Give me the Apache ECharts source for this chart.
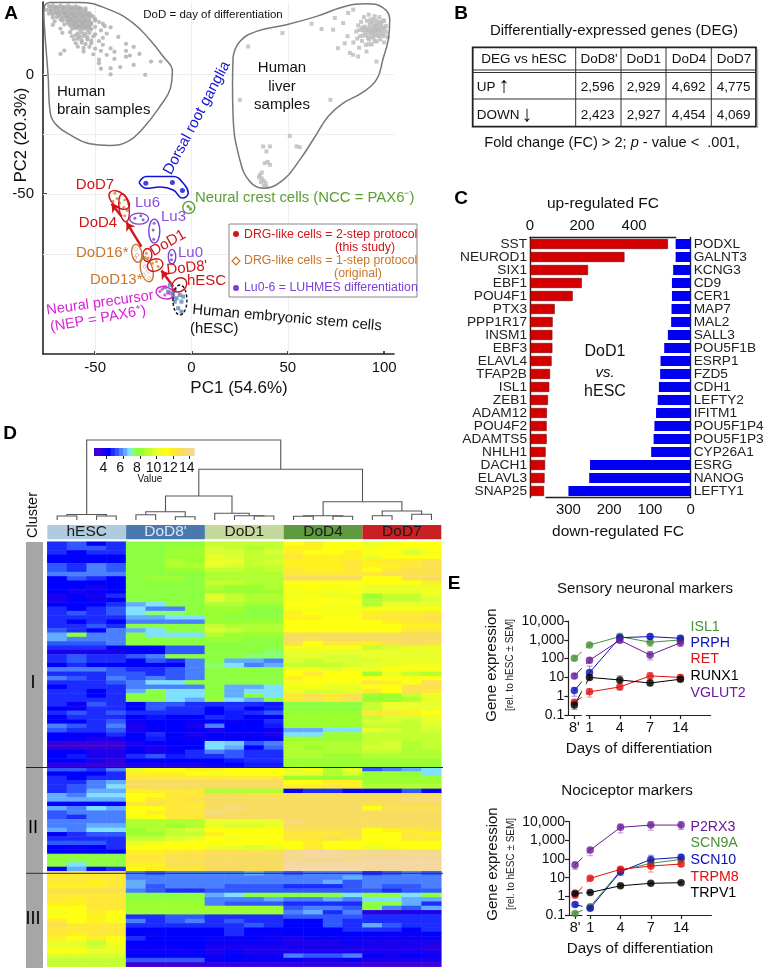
<!DOCTYPE html>
<html><head><meta charset="utf-8">
<style>html,body{margin:0;padding:0;background:#fff}#c{width:770px;height:969px}</style>
<script src="https://cdn.jsdelivr.net/npm/echarts@6/dist/echarts.min.js"></script>
</head><body><div id="c"></div>
<script>
// ---------- Panel A data (PC1, PC2) ----------
const brainPoints=[[-74,28.6],[-72,28.9],[-70,28.3],[-68,28.7],[-66,28.2],[-64,28.8],[-62,28.1],[-60,28.5],[-58,27.9],
[-75,27],[-73,26.8],[-71,27.2],[-69,26.7],[-67,27.1],[-65,26.6],[-63,27.1],[-61,26.7],[-59,26.9],[-57,26.4],[-55,26.8],
[-74,25.4],[-72,25.1],[-70,25.6],[-68,25],[-66,25.5],[-64,25],[-62,25.4],[-60,24.9],[-58,25.3],[-56,24.8],[-54,25.3],[-52,24.7],
[-72,23.8],[-70,24],[-67,23.6],[-65,23.9],[-63,23.4],[-61,23.8],[-59,23.3],[-57,23.7],[-55,23.2],[-53,23.6],[-50,23.1],
[-71,22.2],[-67,22.5],[-64,22],[-62,22.3],[-60,21.9],[-58,22.2],[-56,21.7],[-54,22.1],[-52,21.6],[-48,21.9],[-46,21.2],
[-72,20.7],[-66,20.9],[-63,20.4],[-61,20.7],[-59,20.2],[-57,20.6],[-55,20.1],[-53,20.5],[-50,19.9],[-45,20.2],[-42,19.7],
[-68,19.2],[-62,19],[-60,19.3],[-58,18.8],[-56,19.1],[-54,18.6],[-52,18.9],[-47,18.4],
[-67,17.4],[-63,17.7],[-59,17.2],[-57,17.5],[-55,17],[-53,17.4],[-50,16.8],[-44,17.1],
[-62,16],[-60,16.3],[-58,15.8],[-56,16.1],[-54,15.6],[-51,15.9],[-46,15.3],[-38,15.7],
[-61,14.6],[-59,14.9],[-57,14.3],[-54,14.6],[-52,14.1],[-48,13.9],
[-60,13],[-57,13.3],[-55,12.7],[-52,13],[-46,12.4],[-34,12.8],[-30,11.5],
[-59,11.6],[-56,11.1],[-53,11.5],[-50,10.8],[-42,10.9],
[-66,10],[-56,9.6],[-47,9.9],[-40,9.5],[-34,9.9],[-68,8.6],[-51,8.4],[-44,8.2],[-32,7.9],[-27,8.6],
[-48,4.7],[-47,2.4],[-42,2.6],[-40,6.5],[-34,7.4],[-30,4],[-24,-0.2],[-21,5.4],[-16,5.4],[-42,0],[-37,3.1],[-48,6.2],
[-73,27.9],[-71,28],[-69,27.8],[-67,27.9],[-65,27.6],[-63,27.8],[-61,27.5],[-59,27.7],[-57,27.4],[-55,27.6],
[-73,26.1],[-71,25.9],[-69,26],[-67,26.2],[-65,25.8],[-63,26],[-61,25.7],[-59,25.9],[-57,25.6],[-55,25.8],[-53,25.6],
[-69,24.4],[-66,24.6],[-64,24.3],[-62,24.5],[-60,24.2],[-58,24.4],[-56,24.1],[-54,24.4],[-51,24.1],
[-68,23],[-65,22.8],[-63,22.9],[-61,22.6],[-59,22.8],[-57,22.5],[-55,22.7],[-53,22.4],[-50,22.6],
[-64,21.3],[-62,21.1],[-60,21.3],[-58,21],[-56,21.2],[-54,20.9],[-52,21.1],[-61,19.8],[-59,19.9],[-57,19.7],[-55,19.7],[-53,19.5]];
const liverPoints=[[47.2,17.3],[29.4,11.7],[62.3,21.2],[67.5,19],[73.5,18.7],[74.4,23.6],[78.7,21.5],[81.3,25.7],[83.9,27.1],
[72.1,-10.6],[25.1,-10.6],[51,-25.7],[37.2,-30.1],[40.7,-30.1],[38.9,-32.2],[54.5,-30.1],[56.2,-30.4],[38,-37.1],[40.7,-37.8],[39.5,-36.6],
[35.5,-42],[36.5,-43.5],[37.5,-44.5],[38.5,-45.5],[36,-45],[37.5,-46.5],[39,-47],[35,-43],[36.5,-41],
[96,5.4],[86.5,7.5],[83.9,8.2],[90.8,9.6],[82.2,9],[76,11],[79.5,13],[81,16],[84,13.4],[87,11.2],
[85.5,18],[86.5,20.5],[87.5,16],[88,22],[88.5,14],[89,18.5],[89.5,24],[90,20],[90.5,12.4],[91,16.4],[91,22.4],[91.5,18.6],
[92,25],[92.2,14.6],[92.5,20.6],[93,17],[93,23],[93.5,12.6],[94,19],[94,21.6],[94.5,15.5],[95,24.4],[95,17.6],[95.5,20.4],
[96,13.8],[96,22.6],[96.5,18.4],[97,16],[97,20.6],[97.5,24],[98,14.6],[98,18.4],[98.5,21.4],[99,16.8],[99.5,19.6],[100,13.4],[100,22.4],[101,17.6],[101,20.3],[102,15.6],
[90,17.4],[90.6,19],[91.6,15.2],[92,17.8],[92.4,19.4],[92.8,21.8],[93.4,15.6],[93.6,18.2],[94.2,17.2],[94.6,20.2],[95,18.8],[95.6,16.4],[96,19.4],[96.2,21.2],[96.8,17.4],[97.2,19],[97.6,22],[98,16.2],[98.4,20],[99,18],[99.4,22.6],[100,16],[100.4,19],[88.6,19.6],[89.2,16.2],[87.2,18.6],[86,15],[94.4,23],[92,12.6],[95,14]];
const drgPoints=[[-23.7,-45.5],[-9.9,-45.2],[-4.7,-48.5]];
const nccPoints=[[-1.7,-55.2],[-0.5,-56.3]];
const dodPoints=[[-39.8,-49.7],[-38.6,-51.9],[-40.7,-53],[-37.2,-53.8],[-34.6,-52.4],[-35.1,-55.5],[-34.6,-59.1],[-33.4,-56.9],[-23.4,-74.8],[-22.5,-76.8],[-24.2,-76.4],[-20.2,-78.9],[-18.2,-78.2],[-17.3,-80.3]];
const originalPoints=[[-28.9,-73.1],[-28.2,-75.5],[-29.4,-76.8],[-24.2,-80.3],[-22.5,-82.4],[-24.7,-83.8],[-22,-85.2]];
const luhmesPoints=[[-29.4,-60.1],[-25.1,-60.8],[-26.3,-59.1],[-19.4,-62.2],[-19.9,-65],[-19.6,-68.9],[-10.4,-75.5],[-10.4,-77.5]];
const hescPoints=[[-13.8,-89],[-11.2,-88],[-8.7,-90.1],[-6.1,-92.2],[-10.4,-91.5],[-7.8,-93.6],[-5.2,-95],[-8.7,-95],[-6.9,-97.8],[-5.2,-99.2],[-4.3,-92.9],[-9.5,-92.9],[-12.1,-90.8]];
const nepPoints=[[-16.4,-90.8],[-13.8,-92.2],[-12.1,-91.5],[-15.2,-89.8]];
const brainOutline=[[-76.1,29.1],[-73.5,30.1],[-58,30.1],[-42.4,27],[-30.3,21.5],[-21.6,14.5],[-14.7,7.5],[-9.9,1.3],[-10.9,-5.7],[-16.4,-13.4],[-25.1,-22.5],[-32.9,-28],[-42.4,-29.7],[-52.8,-29],[-63.1,-25.2],[-70.9,-20.4],[-73.5,-14.8],[-74.4,-0.8],[-76.1,17.3],[-76.6,25.7],[-76.1,29.1]];
const liverOutline=[[21.6,7.5],[25.1,13.8],[33.7,18],[49.3,20.8],[64.9,24.3],[78.7,28.2],[90.8,29.6],[99.5,27.8],[102.9,22.9],[102.1,14.5],[99.5,6.8],[96,-2.2],[88.2,-7.8],[78.7,-12],[70.9,-17.6],[63.1,-27.3],[56.2,-35.7],[47.6,-44.1],[37.2,-47.6],[30.3,-44.8],[25.1,-35.7],[21.6,-17.6],[21.3,-3.6],[21.6,7.5]];
const drgOutline=[[-27.2,-45.2],[-23.4,-42.7],[-9.5,-42.7],[-3.5,-46.2],[-1.7,-49.7],[-4.7,-51.7],[-9.5,-48.3],[-16.4,-47.1],[-23.4,-47.6],[-27.2,-45.2]];
const ringMarks=[
 {at:[-37.5,-52.5],rx:12,ry:7,rot:-40,color:'#d0141c'},
 {at:[-35,-55.8],rx:5,ry:14,rot:8,color:'#d0141c'},
 {at:[-27.2,-60.3],rx:9.5,ry:5.5,rot:0,color:'#7a40d8'},
 {at:[-19.3,-65.5],rx:5.5,ry:12,rot:0,color:'#7a40d8'},
 {at:[-22.9,-75.5],rx:4.5,ry:6.5,rot:0,color:'#d0141c'},
 {at:[-28.4,-74.8],rx:5,ry:9,rot:10,color:'#c8772a'},
 {at:[-23.2,-81.8],rx:6,ry:12,rot:15,color:'#c8772a'},
 {at:[-18.9,-79.7],rx:8,ry:6,rot:20,color:'#d0141c'},
 {at:[-10.1,-76.2],rx:3.7,ry:7.3,rot:0,color:'#7a40d8'},
 {at:[-6.3,-88],rx:8,ry:6.5,rot:40,color:'#d0141c'},
 {at:[-6,-94.3],rx:7,ry:15,rot:0,color:'#111',dash:[3,2]},
 {at:[-13.8,-91.3],rx:9,ry:6,rot:-15,color:'#d820d8'},
 {at:[-1.4,-55.6],rx:6,ry:6,rot:0,color:'#5aa032'}
];
const trajectoryArrows=[[[-26,-72],[-33.7,-61.9]],[[-36.3,-59.4],[-41.5,-54.1]],[[-9.5,-88.7],[-15.6,-82]]];
// ---------- Panel B ----------
const degHeaders=["DoD8'","DoD1","DoD4","DoD7"];
const degUp=["2,596","2,929","4,692","4,775"];
const degDown=["2,423","2,927","4,454","4,069"];
// ---------- Panel C ----------
const upGenes=["SST","NEUROD1","SIX1","EBF1","POU4F1","PTX3","PPP1R17","INSM1","EBF3","ELAVL4","TFAP2B","ISL1","ZEB1","ADAM12","POU4F2","ADAMTS5","NHLH1","DACH1","ELAVL3","SNAP25"];
const upFC=[530,363,223,199,164,95,87,86,86,83,77,74,69,65,64,64,60,58,56,54];
const downGenes=["PODXL","GALNT3","KCNG3","CD9","CER1","MAP7","MAL2","SALL3","POU5F1B","ESRP1","FZD5","CDH1","LEFTY2","IFITM1","POU5F1P4","POU5F1P3","CYP26A1","ESRG","NANOG","LEFTY1"];
const downFC=[37,37,43,46,46,47,48,56,65,74,75,78,81,85,89,91,97,247,249,300];
// ---------- Panel D ----------
const heatGroups=["hESC","DoD8'","DoD1","DoD4","DoD7"];
const heatHESC=[[4.5,5,4,4.5],[4.5,5,5,4.5],[4.5,4,4.5,4.5],[4,4,4,4],[4,4,4,4],[5,4.5,5.5,5],[5,4.5,5.5,5],[5.5,5.5,5.5,5.5],[4,5,4.5,4],[4,4,4,4],[4,4,3.5,4],[4,3.5,4,4],[3.5,4,3.5,4.5],[3.5,4,3.8,4],[4,4,4,4.5],[4.5,4,4.5,5],[4.5,5,4.5,5],[4.5,4.5,4.5,4.5],[4.5,4,4.5,4],[4.5,4.5,5,4.5],[5,4.5,4,5.5],[6,7.5,5.5,5.5],[6,5.5,5.5,5.5],[5,5,5,5.5],[4.5,4.5,4.5,4],[3.5,3.5,3.5,3.5],
[4.5,5,4.5,4.5],[4.5,5,4.5,4.5],[4,4.5,4,4],[5.5,5.5,5.5,5],[4.5,4.5,4.5,5],[5.5,5,4.5,5.5],[4.5,4.5,4.5,5],[4,4.5,4.5,4.5],[4.5,4.5,4,4.5],[4.5,4.5,4,4.5],[4.5,4.5,4.5,4.5],[4.5,3.8,5,4.5],[4,3.8,4.5,4.5],[4.5,5,4.5,5],[4,4.5,4.5,4.5],[4,4,4.5,5],[5.5,5,4.5,5.5],[5,4.5,4.5,5],[4,4,4,4.5],[4,3.8,3.5,3.5],[3,3,3,3],[3,3,3,3],[4,4,3.5,3.5],[4,4.3,3.5,3.5],[4,4,3.5,3.2],[3.2,3.2,3,3],
[5,5,4.5,5.5],[4,4,4,4.5],[4.5,4,4.5,4.5],[4.5,4.5,5.5,6],[4.5,5,5.5,6.5],[4.5,5,6,6],[6,5.5,6.5,6.5],[6,6,6,6],[4,4,4,4],[6,5.5,6.5,6],[5,5.5,5.5,5.5],[5,4.5,5.5,5.5],[5.5,5.5,5.5,5.5],[5.5,5.5,6,6],[6,5.5,6.5,6.5],[4,4.5,5,5],[4.5,4.5,4.5,4.5],[5,5,5,4.5],[4,3.8,4,4.5],[4,3.8,4,4],[7.5,7.5,7.5,7.5],[7.5,7.5,7.5,7.5],[7.5,6.5,7.5,7.5],[4,6,4,4.5],
[12,12,12,12],[12,12,12,12],[12,12,11.5,12],[11.5,11.5,11.5,12],[12.5,12.5,12.5,12.5],[12,12,12,12],[12,11.5,12,12],[11.5,11.5,12,12],[11,11,12,12],[10.5,11,11.5,11],[11,11,11.5,11],[12,11,11.5,10.5],[12.5,12,12,12],[12,12,12,12],[12,11.5,12,12],[11.5,11,11.5,11],[10,10,9,10.5],[10,10,9.5,10],[11,11,10,10],[9.5,9.5,9.5,9.5],[9,9,9,9],[9,9,9,9]];
const heatD8=[[7.5,7.5,7.5,7.5],[7.5,7.5,8,8],[7.5,7.5,8,8],[7.5,7.5,8,8],[7.5,7.5,8.5,8],[7.5,7.5,8.5,8.5],[7.5,7.5,8,8],[7.5,7.5,7.5,7.5],[7.5,8,8,7.5],[7.5,7.5,7.5,7.5],[7.5,7.5,7.5,7.5],[7.5,7.5,7.5,7.5],[7.5,7.5,7.5,7.5],[7.5,7.5,7.5,7.5],[6,6.5,7.5,7.5],[6.5,5.5,5.5,7.5],[6.5,7,7,7.5],[6,6,6.5,6.5],[5.5,5.5,5.5,5.5],[7.5,7.5,7.5,7.5],[6,6.5,7.5,7.5],[7.5,6.5,6.5,6.5],[7.5,7.5,7.5,7.5],[7.5,7.5,7.5,7.5],[4,4,5,5],[4,4,5,5],
[5,5.5,7.5,7.5],[4,5,4.5,5.5],[4,4,4,5.5],[4.5,4.5,5,5.5],[5,4.5,5,5.5],[5,5.5,5,5.5],[5.5,6.5,6.5,7.5],[5.5,5.5,5.5,5.5],[6,7.5,6.5,6.5],[7.5,7.5,6.5,6.5],[7.5,7.5,6.5,6],[4,5,5,4.5],[4,5,4.5,4.5],[4.5,4.5,4.5,4.5],[4,4.2,4,4],[3.8,4,4,3.8],[3.5,4,4,3.5],[3.5,3.8,4,4],[4,4.5,4,3.5],[4,4.3,3.8,3.8],[3.5,3.8,4,4],[3.8,3.5,3.8,4],[4,3.5,3.8,4.5],[4.5,5,4.3,4.5],[4,4,4,4],[3.5,3.5,3.5,3.5],
[10,11,11,11.5],[11.5,11.5,11.5,11],[12,12,12,12],[13,13,13,13],[13,13,13,13],[11.5,12,12,12],[11,11,12,12],[11,12,12,12.5],[12,12.5,12,12],[11,11,12,12],[11,11.5,12,12],[10.5,11,12,12],[8.5,8.5,8.5,8.5],[8.5,8.5,8,8.5],[8,8.5,9,9.5],[8,8,9,9],[9,9,9.5,10],[10,10.5,11,11],[11,11,11,11],[11.5,11.5,12,12],[12,12,12.5,12.5],[12,12,12.5,12.5],[11.5,11.5,12.5,12.5],[11,11.5,12,12],
[5.5,5,5.5,5.5],[5.5,5.5,5.5,5.5],[6,5.5,5.5,5.5],[6,5,5.5,5.5],[5.5,5,4.5,4.5],[7.5,7.5,7.5,7.5],[7.5,7.5,7.5,7.5],[8,8,8,8],[8,8,8,8],[8,8,8,8],[4.5,4.5,5,5],[5.5,4.5,5,5.5],[4.5,4.5,4.5,4.5],[4,4,4,4],[4,3.8,4,4],[4.5,4,4,4],[4,4,4,4],[3.8,3.8,3.8,4],[3.8,3.8,3.8,3.8],[4,4,3.8,3.8],[5,5,5,5],[3,3,3,3]];
const heatD1=[[9,9,9,9],[9.5,9,8.5,9],[9.5,9.5,9,9.5],[10,9.5,9,9],[10,10,9,9.5],[10,9.5,9,9],[9,9,8.5,9],[8.5,8.5,8.5,8.5],[8.5,8.5,8.5,8.5],[9,9,8.5,8.5],[8.5,8,8,8.5],[8,8,8,8],[10,9,8.5,8.5],[9.5,9,8.5,8.5],[8.5,8.5,8,8],[8,8,7.5,7.5],[8,8,7.5,7.5],[8,7.5,7.5,7.5],[8,8,8,8],[9,8.5,8.5,8.5],[9.5,9,8.5,8.5],[8.5,8,8,8],[8,8,7.5,7.5],[7.5,7.5,7.5,7.5],[7.5,7.5,7.5,7.5],[7.5,7.5,7.5,7],
[7.5,7.5,7,7],[7.5,6,6,5.5],[7,6.5,5.5,6],[7.5,7.5,7.5,7.5],[7.5,7.5,7.5,7.5],[7.5,7.5,7.5,7.5],[7.5,7.5,7.5,7.5],[7.5,6,6,6.5],[7.5,6,6.5,6.5],[7.5,6,7.5,6.5],[8,6.5,6,7.5],[4.5,4.5,4.5,4.3],[4,4.5,4,4.3],[4,4.3,4.5,5],[4.5,4.3,4,4],[4,3.8,4,4.5],[5.5,4,4,4.3],[3.5,4,4,3.8],[4,3.8,3.8,3.5],[3.8,4,4,3.8],[6.5,6.3,5,5.5],[6.5,6,4,5.2],[5.5,5,4.5,4.5],[4.5,5,4.5,4.5],[4,4.3,4.5,4.5],[3.8,4,4.3,4.3],
[11.5,11,11,11],[10.5,11,11,11],[12,12,12,12],[13,13,13,13],[13,13,13,13],[8.5,8.5,8.5,8.5],[13,13,12.5,12.5],[13,13,13,13],[13,13,13,13],[13,13.5,13,13],[13.5,13,13,13],[13,13,13,13],[10,10,10,10],[10,9.5,9.5,10],[11,11,11,11],[11.5,11,11,11],[11,10.5,11,11],[11,11,11,11],[10,10,9.5,10],[12.5,12.5,12.5,12.5],[13,13,13,13],[13,13,13,13],[13,13,13,13],[13,13,13,13],
[5.5,5.5,6,5.5],[5.5,5.5,5.5,5.5],[5.5,5.5,5.5,5.5],[5.5,5,5,5],[5,5,5,5],[6,6.5,7.5,7.5],[5.5,5.5,5.5,6],[5.5,5,5,5],[8,8,8,8],[8,8,8,8],[4.5,4.5,4.5,4.5],[4.5,5,4.5,4.5],[4.5,4.5,5,4.5],[4,4.5,4,4],[4,4.5,3.8,3.8],[3.8,3.8,4,3.8],[3.8,3.8,3.8,3.8],[3.5,3.5,3.5,3.5],[3.5,3.8,3.5,3.5],[3.8,4,3.8,3.8],[3.8,4,3.8,3.8],[3.2,3.2,3.2,3.2]];
const heatD4=[[11,11.5,11,11],[11.5,11.5,11,11],[11.5,11,11,11.5],[12,11.5,11.5,11.5],[11.5,11.5,11.5,12],[11.5,11.5,11.5,12],[12,11.5,11.5,12],[12,12,12,12],[13,13,13,13],[11,11,11,11],[10.5,11,10.5,10.5],[10.5,10.5,10.5,11],[10.5,10.5,10,10],[10.5,11,11,11],[11,11,10.5,10.5],[10.5,10.5,10.5,10.5],[11.5,11,10.5,10.5],[11.5,11.5,11,11],[11,11,11,11],[11,11,11,11],[11,11,11,11],[13,13,13,13],[13,12.5,13,13],[12.5,11,12,12],[10.5,10.5,10.5,10.5],[10,10,10,10],
[10,10,9.5,9.5],[9.5,9,9.5,9.5],[9,9,9,9.5],[10.5,10.5,10,10.5],[11,12,11,11],[11.5,11,11,11],[10.5,11,11,11],[10.5,10.5,10,10],[10,9.5,9.5,10],[12,12.5,12,12.5],[12,12.5,12,12.5],[7.5,7.5,7.5,7.5],[7.5,7.5,7.5,7.5],[8,8,8,8],[8,8,8,8],[8,8,8,8],[8,8,8,8],[6,6,6.5,6.5],[6.5,6.5,8,8],[8,8,8,8],[8.5,8.5,8.5,8.5],[8.5,8,8.5,8.5],[8.5,8.5,8.5,8.5],[8.5,8.5,8,8],[8,8,8,8],[8,8,8,8],
[10,10.5,8.5,10],[10,10,8.5,9.5],[8,8,8,8],[11,11,11.5,11.5],[11.5,11.5,12,11.5],[3.8,4.5,4.5,4],[13,13,13,13],[13,13,13,13],[13,13,13,13],[13,13,13,13],[13,13,13,13],[13,13,13,13],[13.5,13,13,13],[13,13,13,13],[12.5,12.5,12.5,12.5],[12,12,12,12.5],[12,12,12.5,12],[11,11.5,11,11],[11,12,11,11],[14,14.5,14.5,14],[14,14.5,14.5,14],[14,14,14,14],[14.5,14.5,14.5,14.5],[15,15,15,15],
[5,5.5,5.5,5.5],[5.5,5.5,5.5,6],[5.5,5.5,6,5],[4.5,4.5,4.5,5],[5,5,5,5],[7.5,7.5,7.5,6.5],[5.5,5.5,6,5.5],[4.5,4.5,4.5,4.5],[5,5.5,5.5,5],[5.5,6,4.5,5.5],[5,5,5,5],[4,4,5,4.5],[4,4,5,4.5],[4,4,4,4.5],[4,4,4,4],[3.5,3.8,3.8,3.8],[3.5,3.5,3.5,3.8],[3.5,3.5,3.5,3.5],[3.5,3.5,3.5,3.5],[5.5,5,5,5.5],[3.8,3.5,3.5,3.8],[3.2,3.2,3.2,3.2]];
const heatD7=[[10,10.5,11,11],[10.5,11,11,11],[11,11,9.5,10.5],[10,11,11,11],[11.5,12,12,12.5],[11.5,11.5,12,12.5],[11,12,12.5,12.5],[12,12.5,12.5,12.5],[11,11,12.5,13],[11,11,11,11.5],[10,10,10,10],[10,10,10,10.5],[8,9,9,10],[8.5,9,9,9.5],[8.5,10,10,10],[10.5,10.5,10.5,10.5],[11.5,12,12,12],[12,12,12,12.5],[11,11.5,12,12],[11,11,11.5,11.5],[11,11,12,12],[13,13,13,13],[13,13,13,13],[11.5,12.5,13,12.5],[9,9.5,10,10],[10,10,10,10],
[10,10,10,10],[9.5,10,10,10],[10,10,10.5,10.5],[10,11,10.5,10.5],[8,10,9,8.5],[11,11,10.5,11],[12,11.5,11,12.5],[11,11,12.5,12.5],[12,11,12.5,12],[8,8,9,10],[8,8,8.5,10],[9,10,10,10],[9,10,10,10],[12,12,11.5,11],[9,9.5,9.5,10],[9.5,9.5,9,10],[9,9,9,9.5],[10,9.5,9,9.5],[9,9,9,9],[9,9,9,9],[9,9.5,8.5,9],[9.5,9.5,8.5,9],[9,9,8.5,8.5],[8.5,8.5,8.5,8.5],[8,8,8,8],[8,8,8,8],
[5,5.5,6,6.5],[8,8,7.5,6.5],[8,8,8,8],[8,8,8,8],[8.5,8.5,8.5,8.5],[3.8,3.8,5,3.8],[13,13,13,13],[13,13,13.5,13.5],[12.5,13,13,13],[11,12.5,12.5,12.5],[13,13,13,13],[13,13,13,13],[13,13,13,13],[13,13,13,13],[11,11.5,12,12.5],[11,11,12,11.5],[11,11,12,12],[11,11,11,11],[10,10.5,11,11],[14,14,14,14],[14,14,14,14],[14.5,14.5,14.5,14.5],[14.5,14.5,14.5,14.5],[14.5,14.5,14.5,14.5],
[4.5,5,5.5,5],[5.5,5.5,5.5,5.5],[5.5,5.5,5.5,5.5],[5.5,5,5,5.5],[5,4.5,5,5],[7.5,7.5,6.5,7.5],[6.5,6.5,6,6],[7.5,7.5,6,4.5],[7.5,5.5,5,6],[3.2,3.2,3.5,3.5],[4.5,4.5,4.5,4.5],[4.5,4.5,4.5,4.5],[6,5,4.5,4.5],[4.5,4.5,4,4.5],[4,3.8,3.8,4],[3.8,3.8,3.8,3.8],[3.5,3.5,3.5,3.5],[3.5,3.5,3.5,3.2],[3.5,3.5,3.5,3.5],[4,3.8,4,3.8],[3.5,3.5,3.5,3.5],[3,3,3,3]];
// dendrogram merges: [left x, right x, left child height, right child height, merge height]
const dendroMerges=[[0.5,1.5,0,0,4],[2.5,3.5,0,0,4],[1,3,4,4,5.5],[4.5,5.5,0,0,5.3],[6.5,7.5,0,0,3.3],[5,7,5.3,3.3,8.3],[10.5,11.5,0,0,4],[9.5,11,0,4,4.3],[8.5,10.25,0,4.3,6.7],[6,9.375,8.3,6.7,24],[12.5,13.5,0,0,3.7],[14.5,15.5,0,0,3.7],[13,15,3.7,3.7,4.3],[16.5,17.5,0,0,4.3],[18.5,19.5,0,0,5.7],[17,19,4.3,5.7,9],[14,18,4.3,9,18.3],[7.69,16,24,18.3,50.7],[2,11.85,5.5,50.7,80]];
const legendSteps=[2.5,3,3.5,4,4.5,5,5.5,6,6.5,7,7.5,8,8.5,9,9.5,10,10.5,11,11.5,12,12.5,13,13.5,14];
const legendTicks=[4,6,8,10,12,14];
// ---------- Panel E ----------
const dayStops=[0,1,3,5,7];
const dayLabels=["8'","1","4","7","14"];
const ISL1=[103,525,1480,740,980],ISL1Hi=[135,640,2200,1150,1250],ISL1Lo=[80,440,1000,450,750];
const PRPH=[2,18,1300,1480,1200],PRPHHi=[2.8,40,1800,2000,1600],PRPHLo=[1,10,1000,1150,900];
const RET=[0.47,1.7,3.1,12,10],RETHi=[0.65,2.5,4.5,18,14],RETLo=[0.25,0.9,2.2,8,7.5];
const RUNX1=[0.34,10,7.3,5,8],RUNX1Hi=[0.5,13,12,7,11],RUNX1Lo=[0.2,7.5,5,3.8,6];
const VGLUT2=[12,81,950,155,700],VGLUT2Hi=[16,110,1300,240,1100],VGLUT2Lo=[9,60,700,85,450];
const P2RX3=[48,300,5000,6600,6600],P2RX3Hi=[70,370,7500,10000,10000],P2RX3Lo=[28,150,2500,3500,3800];
const SCN9A=[0.12,0.28,24,59,95],SCN9AHi=[0.14,0.36,32,85,130],SCN9ALo=[0.1,0.2,16,30,70];
const SCN10=[0.36,0.23,21,95,123],SCN10Hi=[0.45,0.3,30,160,170],SCN10Lo=[0.3,0.18,13,60,90];
const TRPM8=[1.18,9.2,28,42,54],TRPM8Hi=[1.7,11,36,60,75],TRPM8Lo=[0.8,7.5,20,20,40];
const TRPV1=[1.45,1.6,3.7,5,5.4],TRPV1Hi=[1.8,1.9,4.4,6,6.4],TRPV1Lo=[1.2,1.4,3.1,4.2,4.6];

const FONT='"Liberation Sans",Arial,sans-serif';
const RED='#d0141c',ORG='#c8772a',PUR='#8a50e0',MAG='#d820d8',DBLUE='#1212d8';
const palette=['#3a00d8','#1a00ee','#0000ff','#1c2cff','#3058ff','#4a80ff','#64acff','#80e0ff','#86ff70','#8cff40','#9cff30','#b0ff30','#c4ff30','#d8ff30','#eaff28','#f6ff18','#ffff10','#fff020','#ffe838','#fbe050','#f7dc60','#f5da80','#f5d890','#f4d8a0','#f3d8b0'];

const grid=[],xAxis=[],yAxis=[],series=[],g=[];
function addGrid(gr,x,y){grid.push(gr);x.gridIndex=grid.length-1;y.gridIndex=grid.length-1;xAxis.push(x);yAxis.push(y);return grid.length-1;}
function T(text,x,y,size,fill,o){o=o||{};g.push({type:'text',x,y,rotation:(o.rot||0)*Math.PI/180,z:50,silent:true,style:Object.assign({text,fontSize:size,fontFamily:FONT,fill:fill||'#111',align:o.align||'center',verticalAlign:'middle',fontWeight:o.bold?'bold':'normal',fontStyle:o.italic?'italic':'normal'},o.style||{})});}
function L(x1,y1,x2,y2,c,w){g.push({type:'line',z:40,silent:true,shape:{x1,y1,x2,y2},style:{stroke:c||'#111',lineWidth:w||1}});}
function R(x,y,w,h,fill,stroke,lw){g.push({type:'rect',z:30,silent:true,shape:{x,y,width:w,height:h},style:{fill:fill||'transparent',stroke:stroke||null,lineWidth:lw||0}});}
const axisLbl=(s)=>({fontSize:s,fontFamily:FONT,color:'#111'});

// ========== Panel A ==========
const gA=addGrid({left:43,top:2,width:351,height:352},
 {type:'value',min:-77.06,max:105.1,axisLine:{onZero:false,lineStyle:{color:'#222',width:1.6}},axisTick:{inside:true,length:3,customValues:[-50,0,50,100],lineStyle:{color:'#222',width:1.6}},axisLabel:Object.assign(axisLbl(15),{customValues:[-50,0,50,100],margin:6}),splitLine:{show:false}},
 {type:'value',min:-116.9,max:30.3,axisLine:{onZero:false,lineStyle:{color:'#222',width:1.6}},axisTick:{inside:true,length:4,customValues:[0,-50],lineStyle:{color:'#222',width:1.6}},axisLabel:Object.assign(axisLbl(15),{customValues:[0,-50],margin:9}),splitLine:{show:false}});
const ax={xAxisIndex:gA,yAxisIndex:gA};
series.push(Object.assign({type:'scatter',data:brainPoints,symbol:'circle',symbolSize:4.3,itemStyle:{color:'#adadad'},silent:true,z:3,
 markLine:{silent:true,symbol:'none',label:{show:false},lineStyle:{color:'#eeeeee',width:1,type:'solid'},z:1,data:[{xAxis:-50},{xAxis:0},{xAxis:50},{yAxis:0},{yAxis:-25},{yAxis:-50},{yAxis:-75}]}},ax));
series.push(Object.assign({type:'scatter',data:liverPoints,symbol:'rect',symbolSize:4,itemStyle:{color:'#bcbcbc'},silent:true,z:3},ax));
[[brainOutline,'#777777',1.5],[liverOutline,'#777777',1.5],[drgOutline,'#1010d8',1.5]].forEach(o=>series.push(Object.assign({type:'line',data:o[0],smooth:0.45,symbol:'none',clip:false,silent:true,lineStyle:{color:o[1],width:o[2]},z:4},ax)));
series.push(Object.assign({type:'scatter',data:hescPoints,symbol:'rect',symbolSize:4,itemStyle:{color:'#5f85b5'},silent:true,z:5},ax));
series.push(Object.assign({type:'scatter',data:nepPoints,symbol:'diamond',symbolSize:4,itemStyle:{color:'#c040c0'},silent:true,z:5},ax));
series.push(Object.assign({type:'scatter',data:drgPoints,symbolSize:5,itemStyle:{color:'#1010d8'},silent:true,z:6},ax));
series.push(Object.assign({type:'scatter',data:nccPoints,symbolSize:3.5,itemStyle:{color:'#5aa032'},silent:true,z:6},ax));
series.push(Object.assign({type:'scatter',data:originalPoints,symbol:'diamond',symbolSize:4,itemStyle:{color:'#fff',borderColor:'#c890a0',borderWidth:0.8},silent:true,z:6},ax));
series.push(Object.assign({type:'scatter',data:luhmesPoints,symbolSize:3,itemStyle:{color:'#6a4ab0'},silent:true,z:6},ax));
series.push(Object.assign({type:'scatter',data:dodPoints,symbolSize:3,itemStyle:{color:'#d8822a'},silent:true,z:6,
 markLine:{silent:true,symbol:['none','arrow'],symbolSize:8,label:{show:false},animation:false,lineStyle:{color:RED,width:2.4,type:'solid'},data:trajectoryArrows.map(a=>[{coord:a[0]},{coord:a[1]}])}},ax));
series.push(Object.assign({type:'custom',silent:true,z:7,clip:false,coordinateSystem:'cartesian2d',data:ringMarks.map((m,i)=>[m.at[0],m.at[1],i]),encode:{x:0,y:1},
 renderItem(p,api){const m=ringMarks[api.value(2)],c=api.coord([api.value(0),api.value(1)]);
  return{type:'ellipse',x:c[0],y:c[1],rotation:m.rot*Math.PI/180,shape:{cx:0,cy:0,rx:m.rx,ry:m.ry},style:{fill:'transparent',stroke:m.color,lineWidth:1.4,lineDash:m.dash||null}};}},ax));
T('A',11,14,19,'#000',{bold:true});
T('DoD = day of differentiation',213,15,11.5,'#111');
T('Human',57,92,15,'#111',{align:'left'});T('brain samples',57,110,15,'#111',{align:'left'});
T('Human',282,68,15);T('liver',282,87,15);T('samples',282,105,15);
T('Dorsal root ganglia',197,118,15,DBLUE,{rot:62});
T('Neural crest cells (NCC = PAX6⁻)',195,198,14.9,'#5aa032',{align:'left'});
T('DoD7',95,185,15,RED);T('DoD4',98,223,15,RED);
T('Lu6',135,203,15,PUR,{align:'left'});T('Lu3',161,217,15,PUR,{align:'left'});T('Lu0',178,253,15,PUR,{align:'left'});
T('DoD1',168,243,15,RED,{rot:30});
T('DoD16*',76,253,15,ORG,{align:'left'});T('DoD13*',90,280,15,ORG,{align:'left'});
T("DoD8'",187,268,15,RED,{rot:6});T('hESC',187,281,15,RED,{align:'left'});
T('Neural precursor',100,303,14.5,MAG,{rot:8});T('(NEP = PAX6⁺)',98,319,14.5,MAG,{rot:10});
T('Human embryonic stem cells',287,318,14.8,'#111',{rot:-5});T('(hESC)',190,329,14.8,'#111',{align:'left'});
T('PC1 (54.6%)',239,388,17);T('PC2 (20.3%)',21,135,16.5,'#111',{rot:90});
R(229,224,188,73,'#fff','#888888',1);
g.push({type:'circle',z:45,silent:true,shape:{cx:236,cy:234,r:3},style:{fill:RED}});
g.push({type:'polygon',z:45,silent:true,shape:{points:[[236,257],[240,261],[236,265],[232,261]]},style:{fill:'#fff',stroke:ORG,lineWidth:1.2}});
g.push({type:'circle',z:45,silent:true,shape:{cx:236,cy:288,r:3},style:{fill:'#7a40d8'}});
T('DRG-like cells = 2-step protocol',244,235,12.3,RED,{align:'left'});T('(this study)',365,248,12.3,RED);
T('DRG-like cells = 1-step protocol',244,261,12.3,ORG,{align:'left'});T('(original)',358,274,12.3,ORG);
T('Lu0-6 = LUHMES differentiation',244,288,12.3,'#7a40d8',{align:'left'});

// ========== Panel B ==========
T('B',461,14,19,'#000',{bold:true});
T('Differentially-expressed genes (DEG)',614,31,15);
T('Fold change (FC) > 2; {i|p} - value <  .001,',612,143,14.6,'#111',{style:{rich:{i:{fontStyle:'italic',fontSize:14.6,fontFamily:FONT,fill:'#111'}}}});
R(472.7,47.3,283.3,79.4,'#fff','#222',1.8);
g.push({type:'line',z:39,silent:true,shape:{x1:757.5,y1:49,x2:757.5,y2:128},style:{stroke:'#bbb',lineWidth:1.5}});
[575.7,621,666,711.3].forEach(x=>L(x,47.3,x,126.7,'#333',1));
L(472.7,70,756,70,'#333',1);L(472.7,72.5,756,72.5,'#333',1);L(472.7,99,756,99,'#333',1);
T('DEG vs hESC',524,59.5,13.5);
const colC=[599,643.7,689,734],valC=[597.7,643.7,688.7,733.7];
degHeaders.forEach((h,i)=>T(h,colC[i],59.5,13.5));
degUp.forEach((h,i)=>T(h,valC[i],87,13.5));
degDown.forEach((h,i)=>T(h,valC[i],115,13.5));
T('UP',476.7,87,13.5,'#111',{align:'left'});T('↑',504,86,22);
T('DOWN',476.7,115,13.5,'#111',{align:'left'});T('↓',527,115,22);

// ========== Panel C ==========
const thick={color:'#222',width:1.4};
const gCu=addGrid({left:530,top:237.5,width:145.7,height:260},
 {type:'value',position:'top',min:0,max:560,axisLine:{show:true,onZero:false,lineStyle:thick},axisTick:{customValues:[0,200,400],length:4,lineStyle:thick},axisLabel:Object.assign(axisLbl(15),{customValues:[0,200,400],margin:4}),splitLine:{show:false}},
 {type:'category',inverse:true,data:upGenes,axisLine:{onZero:false,lineStyle:thick},axisTick:{alignWithLabel:true,length:5,lineStyle:thick},axisLabel:Object.assign(axisLbl(13.7),{interval:0,margin:3,color:'#222'})});
series.push({type:'bar',xAxisIndex:gCu,yAxisIndex:gCu,data:upFC,barWidth:10,silent:true,z:3,itemStyle:{color:'#d40000',borderColor:'#700',borderWidth:0.6}});
const gCd=addGrid({left:546,top:237.5,width:144.7,height:260},
 {type:'value',inverse:true,position:'bottom',min:0,max:355,axisLine:{show:true,onZero:false,lineStyle:thick},axisTick:{customValues:[0,100,200,300],length:4,lineStyle:thick},axisLabel:Object.assign(axisLbl(15),{customValues:[0,100,200,300],margin:5}),splitLine:{show:false}},
 {type:'category',position:'right',inverse:true,data:downGenes,axisLine:{onZero:false,lineStyle:thick},axisTick:{alignWithLabel:true,length:4,lineStyle:thick},axisLabel:Object.assign(axisLbl(13.7),{interval:0,margin:3,color:'#222'})});
series.push({type:'bar',xAxisIndex:gCd,yAxisIndex:gCd,data:downFC,barWidth:10,silent:true,z:3,itemStyle:{color:'#0000f0'}});
T('C',461,199,19,'#000',{bold:true});
T('up-regulated FC',603,204,15.5);T('down-regulated FC',618,532,15.5);
T('DoD1',605,352,16);T('vs.',605,373,15,'#111',{italic:true});T('hESC',605,392,16);

// ========== Panel D ==========
T('D',10,434,19,'#000',{bold:true});
T('Cluster',33,515,14.5,'#111',{rot:90});
T('Value',150,479,10);
R(26,542,17,426,'#a6a6a6');
T('I',33,683,18,'#000');T('II',33,828,18,'#000');T('III',33,919,18,'#000');
const gDen=addGrid({left:47.3,top:438,width:394,height:82},
 {type:'value',min:0,max:20,show:false},{type:'value',min:0,max:82,show:false});
series.push({type:'custom',xAxisIndex:gDen,yAxisIndex:gDen,silent:true,clip:false,z:3,data:dendroMerges,encode:{x:[0,1],y:4},
 renderItem(p,api){const a=api.coord([api.value(0),api.value(2)]),b=api.coord([api.value(0),api.value(4)]),c=api.coord([api.value(1),api.value(4)]),d=api.coord([api.value(1),api.value(3)]);
  return{type:'polyline',shape:{points:[a,b,c,d]},style:{fill:'none',stroke:'#555',lineWidth:1.1}};}});
const groupColors=['#aecbe0','#4a79ae','#c3d89a','#5f9a3e','#c82024'];
const gBar=addGrid({left:47.3,top:525,width:394,height:14.3},
 {type:'category',data:heatGroups,show:false},{type:'value',min:0,max:1,show:false});
series.push({type:'bar',xAxisIndex:gBar,yAxisIndex:gBar,barWidth:'100%',silent:true,data:heatGroups.map((n,i)=>({value:1,itemStyle:{color:groupColors[i]},label:{color:i==1?'#d8e6f4':'#1a1a1a'}})),label:{show:true,position:'inside',formatter:'{b}',fontSize:15.5,fontFamily:FONT}});
const heatCols=[...Array(20).keys()].map(String),heatRows=heatHESC.map((r,i)=>String(i));
const heatData=[];
[heatHESC,heatD8,heatD1,heatD4,heatD7].forEach((grp,gi)=>grp.forEach((row,ri)=>row.forEach((v,ci)=>heatData.push([gi*4+ci,ri,v]))));
const gHeat=addGrid({left:47.3,top:541.7,width:394,height:425},
 {type:'category',data:heatCols,show:false},{type:'category',data:heatRows,inverse:true,show:false});
series.push({type:'heatmap',xAxisIndex:gHeat,yAxisIndex:gHeat,data:heatData,silent:true,progressive:0,z:2,itemStyle:{borderWidth:0}});
const heatIndex=series.length-1;
L(26,767.5,443,767.5,'#222',1);L(26,873.3,443,873.3,'#333',1);
const gLeg=addGrid({left:94,top:448,width:100.7,height:8},
 {type:'value',min:2.5,max:14.6,axisLine:{show:false,onZero:false},axisTick:{customValues:legendTicks,length:3,lineStyle:{color:'#222'}},axisLabel:Object.assign(axisLbl(14),{customValues:legendTicks,margin:5,padding:[0,6,0,0]}),splitLine:{show:false}},
 {type:'value',min:0,max:1,show:false});
series.push({type:'custom',xAxisIndex:gLeg,yAxisIndex:gLeg,silent:true,z:3,data:legendSteps.map(v=>[v,1]),encode:{x:0,y:1},
 renderItem(p,api){const v=api.value(0),a=api.coord([v,1]),b=api.coord([v+0.6,0]);const i=Math.max(0,Math.round((v-3)*2));
  return{type:'rect',shape:{x:a[0],y:a[1],width:b[0]-a[0],height:b[1]-a[1]},style:{fill:palette[Math.min(i,24)]}};}});

// ========== Panel E ==========
function exprPanel(top,left,name,defs){
 const gi=addGrid({left,top,width:142.4,height:top<700?94:93.3},
  {type:'value',min:-0.4,max:9,axisLine:{onZero:false,lineStyle:{color:'#222',width:1.2}},axisTick:{customValues:dayStops,length:4,lineStyle:{color:'#222',width:1.2}},axisLabel:Object.assign(axisLbl(14.5),{customValues:dayStops,margin:5,formatter:v=>dayLabels[dayStops.indexOf(v)]}),splitLine:{show:false}},
  {type:'log',logBase:10,min:0.1,max:10000,axisLine:{onZero:false,lineStyle:{color:'#222',width:1.2}},axisTick:{length:4,lineStyle:{color:'#222',width:1.2}},minorTick:{show:false},axisLabel:Object.assign(axisLbl(14),{margin:4,formatter:v=>v>=1000?Number(v).toLocaleString('en-US'):String(v)}),splitLine:{show:false}});
 const a={xAxisIndex:gi,yAxisIndex:gi};
 defs.forEach(d=>series.push(Object.assign({type:'line',data:d.v.map((v,i)=>[dayStops[i],v]),symbol:'none',silent:true,clip:false,z:3,lineStyle:{color:d.c,width:1}},a)));
 series.push(Object.assign({type:'custom',silent:true,clip:false,z:4,data:[[0.49,0.76]],encode:{x:[0,1]},
  renderItem(p,api){const s=api.coord([api.value(0),10000]),e=api.coord([api.value(1),0.1]);return{type:'rect',shape:{x:s[0],y:s[1],width:e[0]-s[0],height:e[1]-s[1]+6},style:{fill:'#fff'}};}},a));
 defs.forEach((d,k)=>{
  series.push(Object.assign({type:'custom',silent:true,clip:false,z:5,data:d.v.map((v,i)=>[dayStops[i],d.lo[i],d.hi[i]]),encode:{x:0,y:[1,2]},
   renderItem(p,api){const x=api.value(0),l=api.coord([x,api.value(1)]),h=api.coord([x,api.value(2)]);const w=3;
    const st={stroke:d.c,lineWidth:0.8,opacity:0.55};
    return{type:'group',children:[{type:'line',shape:{x1:l[0],y1:l[1],x2:h[0],y2:h[1]},style:st},{type:'line',shape:{x1:l[0]-w,y1:l[1],x2:l[0]+w,y2:l[1]},style:st},{type:'line',shape:{x1:h[0]-w,y1:h[1],x2:h[0]+w,y2:h[1]},style:st}]};}},a));
  series.push(Object.assign({type:'scatter',data:d.v.map((v,i)=>[dayStops[i],v]),symbolSize:7.5,silent:true,clip:false,z:6,itemStyle:{color:d.c}},a));
 });
}
const cG='#4a8f3a',cB='#0a10b8',cR='#e01010',cK='#000',cV='#6a1a9a';
exprPanel(621,568.3,'sens',[{v:ISL1,hi:ISL1Hi,lo:ISL1Lo,c:cG},{v:PRPH,hi:PRPHHi,lo:PRPHLo,c:cB},{v:RET,hi:RETHi,lo:RETLo,c:cR},{v:VGLUT2,hi:VGLUT2Hi,lo:VGLUT2Lo,c:cV},{v:RUNX1,hi:RUNX1Hi,lo:RUNX1Lo,c:cK}]);
exprPanel(821.7,569,'noci',[{v:P2RX3,hi:P2RX3Hi,lo:P2RX3Lo,c:cV},{v:SCN9A,hi:SCN9AHi,lo:SCN9ALo,c:cG},{v:SCN10,hi:SCN10Hi,lo:SCN10Lo,c:cB},{v:TRPM8,hi:TRPM8Hi,lo:TRPM8Lo,c:cR},{v:TRPV1,hi:TRPV1Hi,lo:TRPV1Lo,c:cK}]);
T('E',454,584,19,'#000',{bold:true});
T('Sensory neuronal markers',645,589,15);T('Nociceptor markers',627,791,15.2);
T('Days of differentiation',639,749,15.2);T('Days of differentiation',640,949,15.2);
T('Gene expression',491.5,665,15,'#111',{rot:90});T('Gene expression',492.5,864,15,'#111',{rot:90});
T('[rel. to hESC ± SEM]',510,665,10,'#222',{rot:90});T('[rel. to hESC ± SEM]',511,864,10,'#222',{rot:90});
[['ISL1',627,cG],['PRPH',643,cB],['RET',659,cR],['RUNX1',676,cK],['VGLUT2',693,cV]].forEach(a=>T(a[0],690.5,a[1],14.2,a[2],{align:'left'}));
[['P2RX3',827,cV],['SCN9A',843,cG],['SCN10',860,cB],['TRPM8',877,cR],['TRPV1',893,cK]].forEach(a=>T(a[0],690.5,a[1],14.2,a[2],{align:'left'}));

const chart=echarts.init(document.getElementById('c'),null,{renderer:'canvas'});
chart.setOption({animation:false,backgroundColor:'#fff',textStyle:{fontFamily:FONT},grid,xAxis,yAxis,series,
 visualMap:{show:false,seriesIndex:heatIndex,min:3,max:15,inRange:{color:palette}},
 graphic:{elements:g}});
</script></body></html>
